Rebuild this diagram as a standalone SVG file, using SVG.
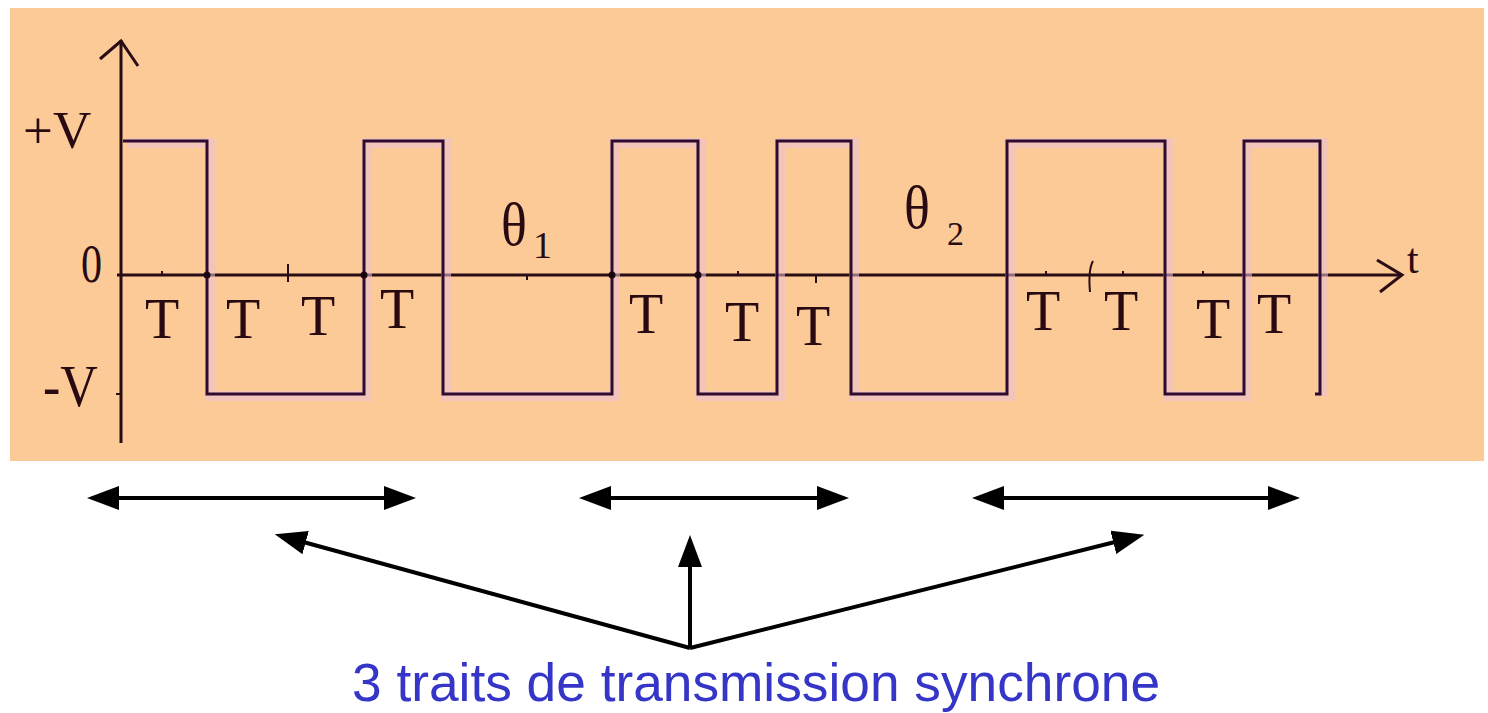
<svg xmlns="http://www.w3.org/2000/svg" width="1488" height="713" viewBox="0 0 1488 713">
  <style>
    .ser { font-family: "Liberation Serif", "Times New Roman", serif; fill: #2a0a12; }
    .wave { fill: none; stroke: #2e0c32; stroke-width: 3; stroke-linejoin: miter; }
    .halo { fill: none; stroke: #ecc0d6; stroke-width: 10; opacity: 0.55; }
    .axis { fill: none; stroke: #2a0c14; stroke-width: 3; }
    .tick { fill: none; stroke: #2a0c14; stroke-width: 2; }
    .arr { stroke: #000; stroke-width: 4; fill: none; }
    .lbl { font-family: "Liberation Sans", Arial, sans-serif; fill: #3535c8; font-size: 53px; }
  </style>
  <defs>
    <marker id="ah" markerUnits="userSpaceOnUse" markerWidth="32" markerHeight="24" refX="10" refY="12" orient="auto-start-reverse" viewBox="0 0 32 24">
      <path d="M0,0 L32,12 L0,24 Z" fill="#000"/>
    </marker>
  </defs>

  <rect id="background" x="10" y="8" width="1474" height="453" fill="#fbca97"/>

  <g id="axes">
    <line class="axis" x1="121" y1="40" x2="121" y2="443"/>
    <polyline class="axis" points="100,59 121,41 138,66"/>
    <line class="axis" x1="117" y1="275" x2="1401" y2="275" stroke-width="2.5"/>
    <polyline class="axis" points="1377,260 1402,275 1380,292"/>
    <text class="ser" x="1407" y="273" font-size="42">t</text>
  </g>

  <g id="levels">
    <text class="ser" x="23" y="148" font-size="53">+V</text>
    <text class="ser" transform="translate(81,282) scale(0.78,1)" font-size="54">0</text>
    <text class="ser" transform="translate(43,406) scale(1,1.12)" font-size="52">-V</text>
    <line class="tick" x1="116" y1="394" x2="121" y2="394"/>
  </g>

  <g id="signal">
    <path class="halo" d="M124,141 H207 V394 H364 V141 H443 V394 H612 V141 H698 V394 H777 V141 H851 V394 H1007 V141 H1165 V394 H1244 V141 H1320 V394" transform="translate(3,2)"/>
    <path class="wave" d="M123,141 H207 V394 H364 V141 H443 V394 H612 V141 H698 V394 H777 V141 H851 V394 H1007 V141 H1165 V394 H1244 V141 H1320 V394 H1315"/>
  </g>

  <g id="ticks">
    <circle cx="207" cy="275" r="3.5" fill="#1a0610"/>
    <circle cx="364" cy="275" r="3.5" fill="#1a0610"/>
    <circle cx="612" cy="275" r="3.5" fill="#1a0610"/>
    <circle cx="698" cy="275" r="3.5" fill="#1a0610"/>
    <line class="tick" x1="162" y1="271" x2="162" y2="275"/>
    <line class="tick" x1="288" y1="264" x2="288" y2="282"/>
    <line class="tick" x1="527" y1="275" x2="527" y2="280"/>
    <line class="tick" x1="738" y1="271" x2="738" y2="275"/>
    <line class="tick" x1="816" y1="275" x2="816" y2="283"/>
    <line class="tick" x1="1046" y1="271" x2="1046" y2="275"/>
    <path class="tick" d="M1093,261 Q1088,270 1090,292"/>
    <line class="tick" x1="1123" y1="271" x2="1123" y2="275"/>
    <line class="tick" x1="1203" y1="271" x2="1203" y2="275"/>
  </g>

  <g id="period-labels">
    <text class="ser" x="162" y="338" font-size="56" text-anchor="middle">T</text>
    <text class="ser" x="243" y="338" font-size="56" text-anchor="middle">T</text>
    <text class="ser" x="318" y="335" font-size="56" text-anchor="middle">T</text>
    <text class="ser" x="397" y="328" font-size="56" text-anchor="middle">T</text>
    <text class="ser" x="646" y="333" font-size="56" text-anchor="middle">T</text>
    <text class="ser" x="742" y="341" font-size="56" text-anchor="middle">T</text>
    <text class="ser" x="813" y="345" font-size="56" text-anchor="middle">T</text>
    <text class="ser" x="1043" y="330" font-size="56" text-anchor="middle">T</text>
    <text class="ser" x="1121" y="330" font-size="56" text-anchor="middle">T</text>
    <text class="ser" x="1213" y="338" font-size="56" text-anchor="middle">T</text>
    <text class="ser" x="1274" y="333" font-size="56" text-anchor="middle">T</text>
  </g>

  <g id="theta1">
    <text class="ser" transform="translate(501,245) scale(1,1.15)" font-size="54">θ</text>
    <text class="ser" x="533" y="258" font-size="38">1</text>
  </g>
  <g id="theta2">
    <text class="ser" transform="translate(904,228) scale(1,1.15)" font-size="54">θ</text>
    <text class="ser" x="947" y="245" font-size="34">2</text>
  </g>

  <g id="connectors">
    <line class="arr" x1="109" y1="498" x2="394" y2="498" marker-start="url(#ah)" marker-end="url(#ah)"/>
    <line class="arr" x1="601" y1="498" x2="827" y2="498" marker-start="url(#ah)" marker-end="url(#ah)"/>
    <line class="arr" x1="994" y1="498" x2="1278" y2="498" marker-start="url(#ah)" marker-end="url(#ah)"/>
    <line class="arr" x1="690" y1="648" x2="296" y2="540" marker-end="url(#ah)"/>
    <line class="arr" x1="690" y1="648" x2="690" y2="557" stroke-width="3" marker-end="url(#ah)"/>
    <line class="arr" x1="690" y1="648" x2="1123" y2="540" marker-end="url(#ah)"/>
  </g>

  <g id="caption">
    <text class="lbl" x="756" y="701" text-anchor="middle" textLength="808" lengthAdjust="spacingAndGlyphs">3 traits de transmission synchrone</text>
  </g>
</svg>
